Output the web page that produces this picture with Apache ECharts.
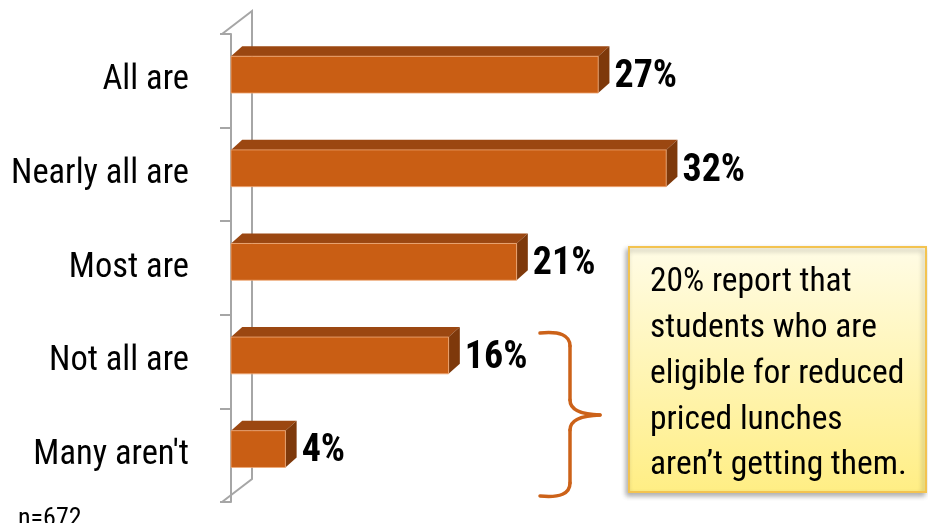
<!DOCTYPE html>
<html>
<head>
<meta charset="utf-8">
<title>Reduced priced lunches</title>
<script src="https://cdn.jsdelivr.net/npm/echarts@6/dist/echarts.min.js"></script>
<style>
  html, body { margin: 0; padding: 0; background: #ffffff; }
  #chart { width: 928px; height: 523px; }
</style>
</head>
<body>
<div id="chart"></div>
<script>
// Survey answers, top to bottom
const categories = ['All are', 'Nearly all are', 'Most are', 'Not all are', "Many aren't"];
// Share of respondents, in percent
const percents = [27, 32, 21, 16, 4];
const sampleNote = 'n=672';
const calloutLines = [
  '20% report that',
  'students who are',
  'eligible for reduced',
  'priced lunches',
  'aren\u2019t getting them.'
];

const FONT = "'Roboto Condensed', 'Liberation Sans', sans-serif";
const AXIS_OFFSET = 9;       // front wall sits a little left of the bars' base
const WALL_DX = 30, WALL_DY = 23;
const BRACE_COLOR = '#CC6219';

const chart = echarts.init(document.getElementById('chart'), null, { renderer: 'canvas' });

// Box-shaped bar: front face, top face and right side face
function renderBar(params, api) {
  const v = api.value(0);
  const cat = api.value(1);
  const p0 = api.coord([0, cat]);
  const p1 = api.coord([v, cat]);
  const band = api.size([0, 1])[1];
  const x0 = p0[0], x1 = p1[0], cy = p0[1];
  const yt = cy - band * 0.262;
  const yb = cy + band * 0.131;
  const dx = band * 0.12, dy = band * 0.107;
  return {
    type: 'group',
    children: [
      {
        type: 'polygon',
        shape: { points: [[x0, yt], [x0 + dx, yt - dy], [x1 + dx, yt - dy], [x1, yt]] },
        style: { fill: '#9B4711' }
      },
      {
        type: 'polygon',
        shape: { points: [[x1, yt], [x1 + dx, yt - dy], [x1 + dx, yb - dy], [x1, yb]] },
        style: { fill: '#7E390B' }
      },
      {
        type: 'rect',
        shape: { x: x0, y: yt, width: x1 - x0, height: yb - yt },
        style: { fill: '#C95E14', stroke: 'rgba(240,170,120,0.8)', lineWidth: 1 }
      },
      {
        type: 'text',
        style: {
          x: x1 + dx + 5,
          y: cy - band * 0.035,
          text: v + '%',
          fill: '#000000',
          font: 'bold 38px ' + FONT,
          align: 'left',
          verticalAlign: 'middle'
        }
      }
    ]
  };
}

// Back wall and floor/ceiling edges of the 3D frame
function renderWall(params) {
  const cs = params.coordSys;
  const fx = cs.x - AXIS_OFFSET;
  const top = cs.y, bottom = cs.y + cs.height;
  return {
    type: 'polyline',
    shape: {
      points: [
        [fx, top], [fx + WALL_DX, top - WALL_DY],
        [fx + WALL_DX, bottom - WALL_DY], [fx, bottom]
      ]
    },
    style: { stroke: '#A6A6A6', lineWidth: 2, fill: null }
  };
}

// Curly brace grouping the last two answers
function braceCurve(x1, y1, cpx1, cpy1, x2, y2) {
  return {
    type: 'bezierCurve',
    shape: { x1, y1, cpx1, cpy1, x2, y2 },
    style: { stroke: BRACE_COLOR, lineWidth: 3.5, fill: null, lineCap: 'round' }
  };
}
function braceLine(x1, y1, x2, y2) {
  return {
    type: 'line',
    shape: { x1, y1, x2, y2 },
    style: { stroke: BRACE_COLOR, lineWidth: 3.5, lineCap: 'round' }
  };
}

const option = {
  animation: false,
  backgroundColor: '#ffffff',
  grid: { left: 231, top: 34, width: 680, height: 468, outerBoundsMode: 'none', containLabel: false },
  xAxis: { type: 'value', min: 0, max: 50, show: false },
  yAxis: {
    type: 'category',
    data: categories,
    inverse: true,
    offset: AXIS_OFFSET,
    axisLine: { lineStyle: { color: '#A6A6A6', width: 2 } },
    axisTick: { show: true, length: 11, lineStyle: { color: '#A6A6A6', width: 2 } },
    axisLabel: {
      color: '#000000', fontFamily: FONT, fontSize: 34.5, margin: 33,
      padding: [7, 0, 0, 0]
    },
    splitLine: { show: false }
  },
  series: [
    {
      type: 'custom',
      name: 'wall',
      z: 1,
      silent: true,
      renderItem: renderWall,
      data: [[0, 0]]
    },
    {
      type: 'custom',
      name: 'share',
      z: 3,
      renderItem: renderBar,
      encode: { x: 0, y: 1 },
      data: percents.map((p, i) => [p, i])
    }
  ],
  graphic: [
    {
      type: 'group',
      z: 10,
      children: [
        braceCurve(540, 333, 570, 330, 570, 346),
        braceLine(570, 346, 570, 400),
        braceCurve(570, 400, 570, 414, 600, 415),
        braceCurve(600, 415, 570, 416, 570, 430),
        braceLine(570, 430, 570, 483),
        braceCurve(570, 483, 570, 499, 540, 496)
      ]
    },
    {
      type: 'rect',
      z: 10,
      shape: { x: 629, y: 247, width: 297, height: 245 },
      style: {
        fill: {
          type: 'linear', x: 0, y: 0, x2: 0, y2: 1,
          colorStops: [
            { offset: 0, color: '#FFFCE6' },
            { offset: 1, color: '#FFEE84' }
          ]
        },
        stroke: '#F3C350',
        lineWidth: 2,
        shadowBlur: 5,
        shadowOffsetX: -2,
        shadowOffsetY: 3,
        shadowColor: 'rgba(0,0,0,0.3)'
      }
    },
    {
      type: 'text',
      z: 11,
      style: {
        x: 650,
        y: 260,
        text: calloutLines.join('\n'),
        font: '33.5px ' + FONT,
        lineHeight: 45.75,
        fill: '#000000',
        align: 'left',
        verticalAlign: 'top'
      }
    },
    {
      type: 'text',
      z: 11,
      style: {
        x: 18,
        y: 519,
        text: sampleNote,
        font: '26px ' + FONT,
        fill: '#000000',
        align: 'left',
        verticalAlign: 'middle'
      }
    }
  ]
};

chart.setOption(option);
</script>
</body>
</html>
